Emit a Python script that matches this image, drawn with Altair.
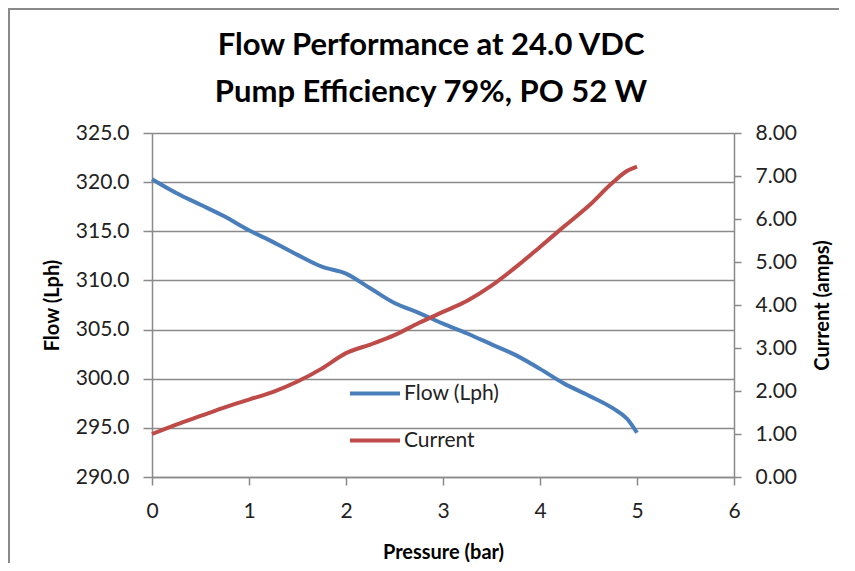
import altair as alt
import pandas as pd

# ---- data ----
pressure = [0, 0.25, 0.5, 0.75, 1.0, 1.25, 1.5, 1.75, 2.0, 2.25, 2.5, 2.75,
            3.0, 3.25, 3.5, 3.75, 4.0, 4.25, 4.5, 4.75, 4.9, 5.0]
flow = [320.3, 318.9, 317.7, 316.5, 315.1, 313.9, 312.6, 311.4, 310.7, 309.2,
        307.7, 306.7, 305.6, 304.6, 303.5, 302.4, 301.0, 299.5, 298.3, 297.0,
        295.9, 294.5]
current = [1.00, 1.22, 1.42, 1.62, 1.80, 1.98, 2.22, 2.52, 2.88, 3.08, 3.30,
           3.58, 3.84, 4.10, 4.45, 4.88, 5.35, 5.83, 6.30, 6.85, 7.12, 7.22]

series_names = ["Flow (Lph)", "Current"]
series_colors = ["#4A7EBB", "#BE4B48"]
x_ticks = [0, 1, 2, 3, 4, 5, 6]
flow_ticks = [290, 295, 300, 305, 310, 315, 320, 325]
current_ticks = [0, 1, 2, 3, 4, 5, 6, 7, 8]
title_lines = ["Flow Performance at 24.0 VDC", "Pump Efficiency 79%, PO 52 W"]

flow_df = pd.DataFrame({"pressure": pressure, "value": flow, "series": series_names[0]})
cur_df = pd.DataFrame({"pressure": pressure, "value": current, "series": series_names[1]})

FONT = "Lato"
GRAY = "#8a8a8a"
W, H = 582, 344
PAD = {"left": 144, "top": 125, "right": 105, "bottom": 86}

color = alt.Color(
    "series:N",
    scale=alt.Scale(domain=series_names, range=series_colors),
    legend=alt.Legend(
        orient="none", legendX=196, legendY=246, title=None,
        symbolType="M-1,0H3", symbolSize=625, symbolStrokeWidth=4,
        labelFont=FONT, labelFontSize=21, labelColor="#222222",
        labelOffset=27, rowPadding=22, padding=0,
    ),
)

x_enc = alt.X(
    "pressure:Q",
    scale=alt.Scale(domain=[0, 6], nice=False),
    axis=alt.Axis(
        values=x_ticks, format="d", title="Pressure (bar)", grid=False,
        labelFont=FONT, labelFontSize=21, labelColor="#222222", labelPadding=15,
        labelFlush=False,
        tickSize=8, tickColor=GRAY, tickWidth=1.5, domainColor=GRAY, domainWidth=1.5,
        titleFont=FONT, titleFontSize=20, titleFontWeight="bold", titleColor="black",
        titlePadding=21,
    ),
)

flow_line = alt.Chart(flow_df).mark_line(strokeWidth=4, interpolate="monotone").encode(
    x=x_enc,
    y=alt.Y(
        "value:Q",
        scale=alt.Scale(domain=[290, 325], nice=False, zero=False),
        axis=alt.Axis(
            orient="left", values=flow_ticks, format=".1f", title="Flow (Lph)",
            grid=True, gridColor=GRAY, gridWidth=1.3, labelFlush=False,
            labelFont=FONT, labelFontSize=21, labelColor="#222222", labelPadding=14,
            tickSize=9, tickColor=GRAY, tickWidth=1.5, domainColor=GRAY, domainWidth=1.5,
            titleFont=FONT, titleFontSize=20, titleFontWeight="bold", titleColor="black",
            titlePadding=13,
        ),
    ),
    color=color,
)

cur_line = alt.Chart(cur_df).mark_line(strokeWidth=4, interpolate="monotone").encode(
    x=x_enc,
    y=alt.Y(
        "value:Q",
        scale=alt.Scale(domain=[0, 8], nice=False),
        axis=alt.Axis(
            orient="right", values=current_ticks, format=".2f", title="Current (amps)",
            grid=False, labelFlush=False,
            labelFont=FONT, labelFontSize=21, labelColor="#222222", labelPadding=14,
            tickSize=7, tickColor=GRAY, tickWidth=1.5, domainColor=GRAY, domainWidth=1.5,
            titleFont=FONT, titleFontSize=20, titleFontWeight="bold", titleColor="black",
            titlePadding=36, titleAngle=270,
        ),
    ),
    color=color,
)

frame_df = pd.DataFrame({"k": [0]})
frame_top = alt.Chart(frame_df).mark_rule(color=GRAY, strokeWidth=2).encode(
    x=alt.value(-PAD["left"]), x2=alt.value(W + PAD["right"]), y=alt.value(-PAD["top"] + 1)
)
frame_left = alt.Chart(frame_df).mark_rule(color=GRAY, strokeWidth=2).encode(
    x=alt.value(-PAD["left"] + 1), y=alt.value(-PAD["top"]), y2=alt.value(H + PAD["bottom"])
)

chart = (
    alt.layer(flow_line, cur_line, frame_top, frame_left)
    .resolve_scale(y="independent")
    .properties(
        width=W,
        height=H,
        autosize=alt.AutoSizeParams(type="none"),
        padding=PAD,
        title=alt.TitleParams(
            text=title_lines, font=FONT, fontSize=31, fontWeight="bold",
            color="black", anchor="middle", lineHeight=47, dx=-12, offset=-102,
            frame="group",
        ),
    )
    .configure_view(stroke=None)
    .configure(background="white")
)

chart.save("out.html", embed_options={"renderer": "svg", "actions": False})
